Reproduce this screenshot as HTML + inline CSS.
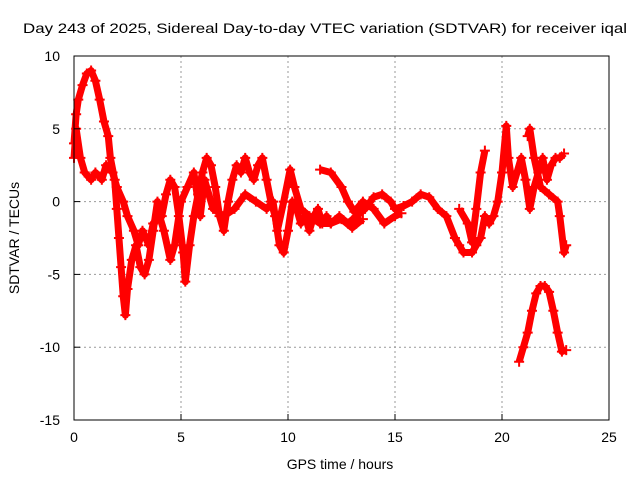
<!DOCTYPE html>
<html><head><meta charset="utf-8"><style>
body{margin:0;background:#fff}
text{font-family:"Liberation Sans",sans-serif;font-size:14px;fill:#000}
</style></head><body>
<svg id="chart" width="640" height="480" xmlns="http://www.w3.org/2000/svg">
<text x="23" y="33" textLength="604" lengthAdjust="spacingAndGlyphs">Day 243 of 2025, Sidereal Day-to-day VTEC variation (SDTVAR) for receiver iqal</text>
<text x="340" y="469" text-anchor="middle">GPS time / hours</text>
<text transform="translate(19,238) rotate(-90)" text-anchor="middle">SDTVAR / TECUs</text>
<g id="grid"></g><g id="marks"></g><g id="axes"></g>
</svg>
<script>
const xTicks=[0,5,10,15,20,25];
const yTicks=[10,5,0,-5,-10,-15];
const trackA=[[0,4],[0.1,6],[0.2,7],[0.4,8],[0.6,8.8],[0.8,9],[1.0,8.3],[1.2,7],[1.4,5.5],[1.6,4.5],[1.7,3],[1.9,1.5],[2.0,-0.5],[2.1,-2.5],[2.2,-4.5],[2.3,-6.5],[2.4,-7.8],[2.5,-6],[2.7,-4],[2.9,-3],[3.1,-4.5],[3.3,-5],[3.5,-4],[3.7,-2],[3.9,0],[4.1,-1],[4.3,0.5],[4.5,1.5],[4.7,1],[4.9,-1],[5.1,-3.5],[5.2,-5.5],[5.4,-3],[5.6,-1],[5.8,0.5],[6.0,2],[6.2,3],[6.4,2.5],[6.6,1],[6.8,-1],[7.0,-2],[7.2,0],[7.4,1.5],[7.6,2.5],[7.8,2],[8.0,3],[8.2,2],[8.4,1.5],[8.6,2.5],[8.8,3],[9.0,1.5],[9.2,0],[9.4,-1],[9.6,-3],[9.8,-3.5],[10.0,-2],[10.2,0],[10.4,-0.5],[10.6,-1.5],[10.8,-1],[11.0,-2],[11.2,-1],[11.4,-0.5],[11.6,-1.5],[11.8,-1],[12.0,-1.5],[12.4,-1],[12.8,-1.5],[13.2,-1],[13.6,-0.5],[14.0,0.3],[14.4,0.5],[14.8,0],[15.0,-0.5],[15.4,-0.3],[15.8,0],[16.2,0.5],[16.6,0.3],[17.0,-0.5],[17.4,-1],[17.8,-2.5],[18.0,-3],[18.2,-3.5],[18.6,-3.5],[18.8,-3],[19.0,-2.5],[19.2,-1],[19.4,-1.5],[19.6,-1],[19.8,0],[20.0,2],[20.2,5.2],[20.3,3],[20.5,1],[20.7,2],[20.9,3],[21.1,1.5],[21.3,-0.5],[21.5,1],[21.7,2],[21.9,3],[22.1,1.5],[22.3,2.5],[22.5,3],[22.7,3],[22.9,3.3]];
const trackB=[[0,3],[0.1,5],[0.3,3],[0.5,2],[0.8,1.5],[1.0,2],[1.3,1.5],[1.5,2.5],[1.8,2],[2.0,1],[2.3,0],[2.5,-1],[2.8,-2],[3.0,-3],[3.2,-2],[3.5,-3],[3.7,-1.5],[4.0,-1],[4.2,-2],[4.5,-4],[4.7,-3],[5.0,0],[5.3,1],[5.6,2],[5.9,-1],[6.1,1.5],[6.5,-0.5],[7.0,-1],[7.5,-0.5],[8.0,0.5],[8.5,0],[9.0,-0.5],[9.3,0],[9.5,-2],[9.8,0],[10.1,2.2],[10.3,1],[10.6,-0.5],[11.0,-1],[11.5,-1.5],[12.0,-1.5],[12.5,-1.2],[13.0,-1.8],[13.5,-1.2]];
const trackC=[[11.5,2.2],[12,2],[12.5,1],[12.8,0],[13.1,-0.7],[13.5,0],[14,-0.5],[14.5,-1.5],[15.0,-1],[15.3,-0.8]];
const trackD=[[18.0,-0.5],[18.4,-1.5],[18.6,-2.8],[18.8,-0.5],[19,2],[19.2,3.5]];
const trackE=[[20.8,-11],[21,-10],[21.2,-9],[21.4,-7.5],[21.6,-6.3],[21.8,-5.8],[22.0,-5.8],[22.2,-6.2],[22.4,-7.5],[22.6,-9],[22.8,-10.3],[23.0,-10.2]];
const trackF=[[21.2,4.5],[21.3,5],[21.5,3],[21.8,1],[22.2,0.5],[22.6,0],[22.7,-1],[22.9,-3.5],[23,-3]];
const tracks=[trackA,trackB,trackC,trackD,trackE,trackF];
const X0=74,X1=609,Y0=420,Y1=56;
const xs=t=>X0+(t-0)/(25-0)*(X1-X0);
const ys=v=>Y0-(v+15)/(10+15)*(Y0-Y1);
const NS="http://www.w3.org/2000/svg";
const grid=document.getElementById('grid'),marks=document.getElementById('marks'),axes=document.getElementById('axes');
function mk(tag,attrs,parent){const e=document.createElementNS(NS,tag);for(const k in attrs)e.setAttribute(k,attrs[k]);parent.appendChild(e);return e;}
xTicks.forEach(t=>{
 if(t>0&&t<25){const g=mk('line',{x1:xs(t),x2:xs(t),y1:Y1,y2:Y0,stroke:'#999','stroke-dasharray':'2,3'},grid);
 
 }
 const tk=mk('line',{x1:xs(t),x2:xs(t),y1:Y0,y2:Y0-6,stroke:'#000'},axes);
 
 
 const l=mk('text',{x:xs(t),y:Y0+22,'text-anchor':'middle'},axes);l.textContent=t;
 
 
});
yTicks.forEach(v=>{
 if(v<10&&v>-15){const g=mk('line',{x1:X0,x2:X1,y1:ys(v),y2:ys(v),stroke:'#999','stroke-dasharray':'2,3'},grid);
 
 }
 const tk=mk('line',{x1:X0,x2:X0+6,y1:ys(v),y2:ys(v),stroke:'#000'},axes);
 
 
 const l=mk('text',{x:X0-14,y:ys(v)+5,'text-anchor':'end'},axes);l.textContent=v;
 
 
});
const fr=mk('rect',{x:X0,y:Y1,width:X1-X0,height:Y0-Y1,fill:'none',stroke:'#000'},axes);


tracks.forEach(tr=>{
 const pl=mk('polyline',{points:tr.map(p=>xs(p[0])+','+ys(p[1])).join(' '),fill:'none',stroke:'#f00','stroke-width':7,'stroke-linejoin':'round'},marks);
 
 
 tr.forEach(p=>{const x=xs(p[0]),y=ys(p[1]);
  const m=mk('path',{d:`M${x-5},${y}H${x+5}M${x},${y-5}V${y+5}`,stroke:'#f00','stroke-width':2},marks);
  
  });
});
</script>
</body></html>
